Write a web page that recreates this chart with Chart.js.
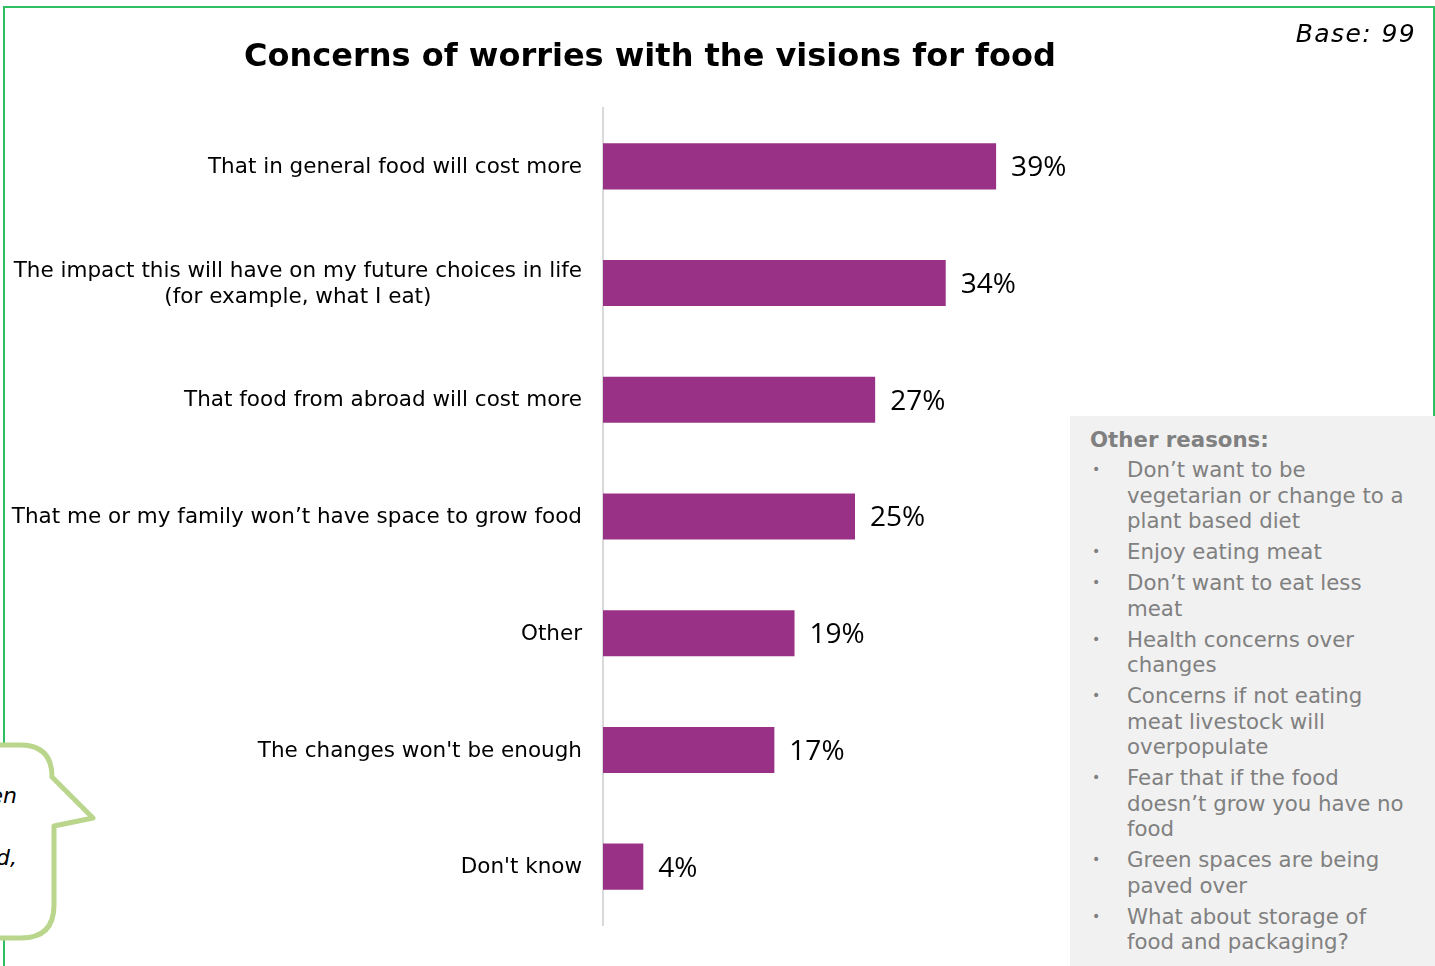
<!DOCTYPE html>
<html>
<head>
<meta charset="utf-8">
<script src="https://cdn.jsdelivr.net/npm/chart.js"></script>
<style>
  html, body { margin: 0; padding: 0; background: #ffffff; overflow: hidden; }
  body { width: 1435px; height: 966px; position: relative; font-family: "DejaVu Sans", Verdana, sans-serif; }
  #frame { position: absolute; left: 3px; top: 6px; width: 1428px; height: 1000px; border: 2px solid #2fbf62; }
  #chart-wrap { position: absolute; left: 0; top: 0; width: 1435px; height: 966px; }
  #title { position: absolute; left: 0; width: 1300px; top: 36px; text-align: center; font-weight: bold; font-size: 32px; color: #000; }
  #base { position: absolute; right: 19px; top: 19px; font-style: italic; font-size: 25px; letter-spacing: 1.4px; color: #000; }
  #others { position: absolute; left: 1070px; top: 416px; width: 380px; height: 560px; background: #f1f1f1; color: #808080; font-size: 21.3px; }
  #others .head { position: absolute; left: 20px; top: 11px; font-weight: bold; line-height: 26px; }
  #others ul { list-style: none; margin: 0; padding: 0; position: absolute; left: 20px; top: 41px; }
  #others li { position: relative; padding-left: 37px; line-height: 25.5px; margin-bottom: 5.5px; white-space: nowrap; }
  #others li::before { content: "\2022"; position: absolute; left: 2px; font-size: 14px; }
  #callout { position: absolute; left: 0; top: 0; }
  #callout-text { position: absolute; left: -120px; top: 780px; width: 137px; text-align: right; font-style: italic; font-size: 22px; line-height: 31px; color: #000; }
  #callout-text .cut { margin-right: 15px; }
</style>
</head>
<body>
<div id="frame"></div>
<svg id="callout" width="120" height="966">
  <path d="M -20 745 L 20 745 Q 52 745 52 777 L 93 818 L 54 826 L 54 905 Q 54 938 21 938 L -20 938 Z"
        fill="#ffffff" stroke="#b9d68c" stroke-width="5" stroke-linejoin="round"/>
</svg>
<div id="callout-text">often<br><span class="cut">it.</span><br>food,</div>
<div id="chart-wrap"><canvas id="myChart" width="1435" height="966"></canvas></div>
<div id="title">Concerns of worries with the visions for food</div>
<div id="base">Base: 99</div>
<div id="others">
  <div class="head">Other reasons:</div>
  <ul>
    <li>Don’t want to be<br>vegetarian or change to a<br>plant based diet</li>
    <li>Enjoy eating meat</li>
    <li>Don’t want to eat less<br>meat</li>
    <li>Health concerns over<br>changes</li>
    <li>Concerns if not eating<br>meat livestock will<br>overpopulate</li>
    <li>Fear that if the food<br>doesn’t grow you have no<br>food</li>
    <li>Green spaces are being<br>paved over</li>
    <li>What about storage of<br>food and packaging?</li>
  </ul>
</div>
<script>
// answers, top to bottom
const categories = [
  ["That in general food will cost more"],
  ["The impact this will have on my future choices in life", "(for example, what I eat)"],
  ["That food from abroad will cost more"],
  ["That me or my family won\u2019t have space to grow food"],
  ["Other"],
  ["The changes won't be enough"],
  ["Don't know"]
];
const percentages = [39, 34, 27, 25, 19, 17, 4];

const barColor = "#993286";

// category names left of the axis, multi-line ones centred on their widest line
const categoryLabels = {
  id: "categoryLabels",
  afterDraw(chart) {
    const ctx = chart.ctx;
    const yScale = chart.scales.y;
    const right = chart.chartArea.left - 21;
    ctx.save();
    ctx.font = "21.5px 'DejaVu Sans', Verdana, sans-serif";
    ctx.fillStyle = "#000000";
    ctx.textBaseline = "middle";
    ctx.textAlign = "center";
    categories.forEach((lines, i) => {
      const y = yScale.getPixelForValue(i);
      const widest = Math.max(...lines.map(l => ctx.measureText(l).width));
      const cx = right - widest / 2;
      const lh = 26;
      const top = y - (lines.length - 1) * lh / 2;
      lines.forEach((l, j) => ctx.fillText(l, cx, top + j * lh + 1));
    });
    ctx.restore();
  }
};

// percentage next to the end of each bar
const valueLabels = {
  id: "valueLabels",
  afterDatasetsDraw(chart) {
    const ctx = chart.ctx;
    const meta = chart.getDatasetMeta(0);
    ctx.save();
    ctx.font = "28px 'Open Sans', sans-serif";
    ctx.fillStyle = "#000000";
    ctx.textBaseline = "middle";
    ctx.textAlign = "left";
    meta.data.forEach((bar, i) => {
      ctx.fillText(percentages[i] + "%", bar.x + 15, bar.y + 2);
    });
    ctx.restore();
  }
};

new Chart("myChart", {
  type: "bar",
  data: {
    labels: categories.map(c => c.join(" ")),
    datasets: [{
      data: percentages,
      backgroundColor: barColor,
      borderWidth: 0,
      barPercentage: 0.395,
      categoryPercentage: 1
    }]
  },
  options: {
    indexAxis: "y",
    responsive: false,
    animation: false,
    layout: { padding: { left: 595, right: 328, top: 108, bottom: 41 } },
    plugins: {
      legend: { display: false },
      tooltip: { enabled: false }
    },
    scales: {
      x: { display: false, min: 0, max: 50 },
      y: {
        ticks: { display: false },
        grid: { display: false },
        border: { display: true, color: "#d9d9d9", width: 2 }
      }
    }
  },
  plugins: [categoryLabels, valueLabels]
});
</script>
</body>
</html>
